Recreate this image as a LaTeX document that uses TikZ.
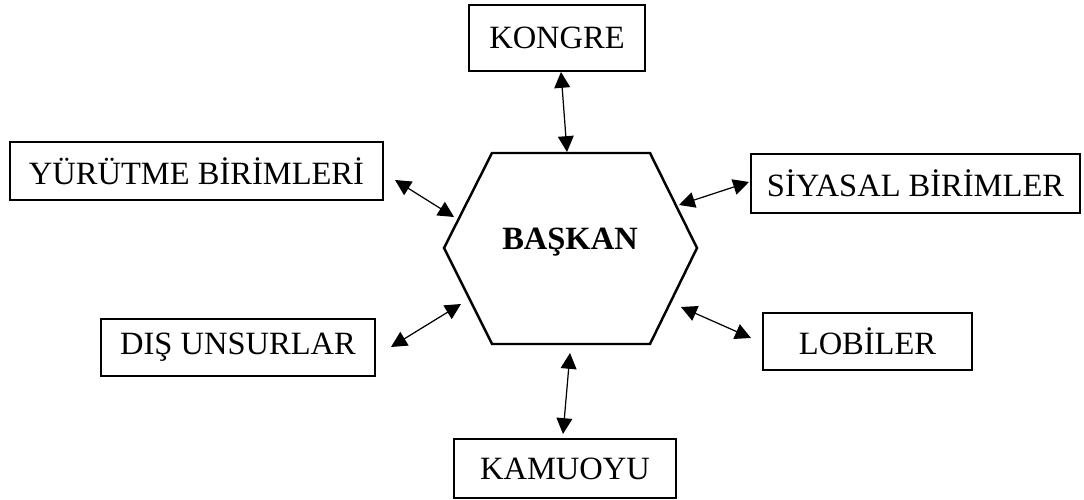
\documentclass[tikz,border=0pt]{standalone}
\usepackage{fontspec}
\setmainfont{Liberation Serif}
\usetikzlibrary{arrows.meta}

\tikzset{
  kutu/.style={draw, line width=1.4pt, inner sep=0pt, font=\fontsize{18.5}{21}\selectfont},
  ok/.style={{Triangle[length=9pt,width=9pt]}-{Triangle[length=9pt,width=9pt]}, line width=0.7pt},
}

\begin{document}
\begin{tikzpicture}
  \useasboundingbox (0,0) rectangle (21.68,10);

  % Altigen (merkez)
  \draw[line width=1.4pt] (9.84,6.94) -- (13.0,6.94) -- (13.94,5.04)
    -- (13.0,3.12) -- (9.84,3.12) -- (8.88,5.04) -- cycle;
  \node[font=\fontsize{18.5}{21}\selectfont\bfseries] (baskan) at (11.40,5.16) {BAŞKAN};

  % Kutular
  \node[kutu, minimum width=3.52cm, minimum height=1.32cm] (kongre) at (11.14,9.24) {KONGRE};
  \node[kutu, minimum width=7.46cm, minimum height=1.16cm] (yurutme) at (3.93,6.58) {YÜRÜTME BİRİMLERİ};
  \node[kutu, minimum width=6.58cm, minimum height=1.18cm] (siyasal) at (18.31,6.33) {SİYASAL BİRİMLER};
  \node[kutu, minimum width=5.48cm, minimum height=1.14cm] (dis) at (4.76,3.05) {DIŞ UNSURLAR};
  \node[kutu, minimum width=4.18cm, minimum height=1.14cm] (lobiler) at (17.35,3.17) {LOBİLER};
  \node[kutu, minimum width=4.44cm, minimum height=1.18cm] (kamuoyu) at (11.30,0.63) {KAMUOYU};

  % Ok uclari
  \coordinate (kongre-ok) at (11.22,8.56);
  \coordinate (alt-ust) at (11.34,6.96);
  \coordinate (yurutme-ok) at (7.90,6.40);
  \coordinate (alt-sol-ust) at (9.08,5.66);
  \coordinate (siyasal-ok) at (14.98,6.36);
  \coordinate (alt-sag-ust) at (13.58,5.90);
  \coordinate (dis-ok) at (7.82,3.06);
  \coordinate (alt-sol-alt) at (9.22,3.92);
  \coordinate (lobiler-ok) at (15.02,3.24);
  \coordinate (alt-sag-alt) at (13.62,3.86);
  \coordinate (kamuoyu-ok) at (11.26,1.32);
  \coordinate (alt-alt) at (11.40,2.94);

  % Oklar
  \draw[ok] (kongre-ok) -- (alt-ust);
  \draw[ok] (yurutme-ok) -- (alt-sol-ust);
  \draw[ok] (alt-sag-ust) -- (siyasal-ok);
  \draw[ok] (dis-ok) -- (alt-sol-alt);
  \draw[ok] (alt-sag-alt) -- (lobiler-ok);
  \draw[ok] (alt-alt) -- (kamuoyu-ok);
\end{tikzpicture}
\end{document}
